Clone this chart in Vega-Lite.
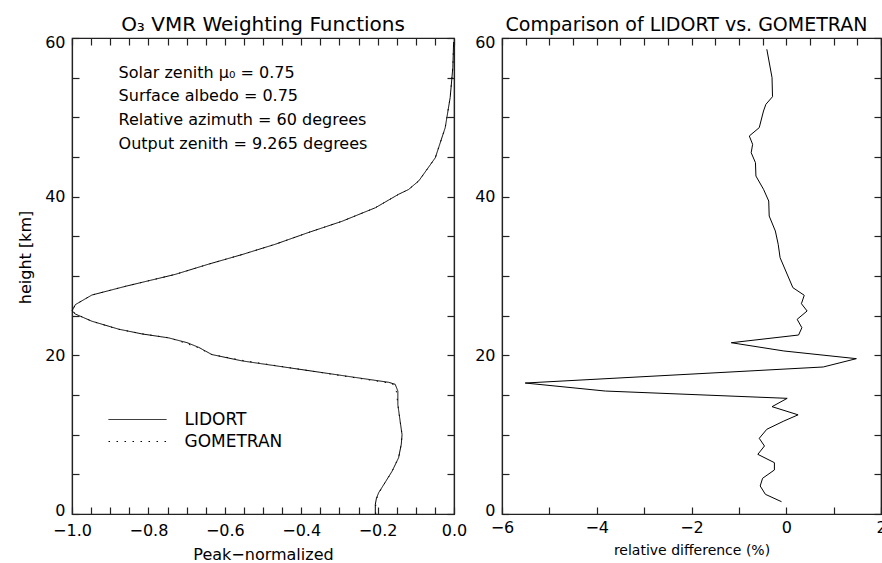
{
  "$schema": "https://vega.github.io/schema/vega-lite/v6.json",
  "background": "white",
  "padding": {"left": 16, "top": 14, "right": 0, "bottom": 0},
  "bounds": "flush",
  "spacing": 48,
  "config": {
    "view": {"stroke": "#222222", "strokeWidth": 1.2},
    "font": "DejaVu Sans",
    "axis": {
      "domainColor": "#222222",
      "domainWidth": 1.2,
      "tickColor": "#222222",
      "tickWidth": 1.2,
      "ticks": true,
      "labelColor": "black",
      "titleColor": "black",
      "labelFont": "DejaVu Sans",
      "titleFont": "DejaVu Sans",
      "titleFontWeight": "normal",
      "labelFontSize": 16,
      "titleFontSize": 16,
      "grid": false,
      "labelOverlap": false,
      "labelBound": false,
      "labelFlush": false
    },
    "title": {"font": "DejaVu Sans", "fontWeight": "normal", "fontSize": 19, "color": "black", "baseline": "alphabetic", "offset": -1}
  },
  "hconcat": [
    {
      "width": 382,
      "height": 476,
      "title": {"text": "O₃ VMR Weighting Functions", "fontSize": 20},
      "resolve": {"axis": {"x": "independent", "y": "independent"}},
      "layer": [
        {
          "data": {"values": [
            {"model": "LIDORT", "km": 0.0, "wf": -0.206},
            {"model": "LIDORT", "km": 1.2, "wf": -0.206},
            {"model": "LIDORT", "km": 2.0, "wf": -0.203},
            {"model": "LIDORT", "km": 2.7, "wf": -0.197},
            {"model": "LIDORT", "km": 4.0, "wf": -0.180},
            {"model": "LIDORT", "km": 5.4, "wf": -0.162},
            {"model": "LIDORT", "km": 7.1, "wf": -0.145},
            {"model": "LIDORT", "km": 8.8, "wf": -0.138},
            {"model": "LIDORT", "km": 10.0, "wf": -0.136},
            {"model": "LIDORT", "km": 11.7, "wf": -0.141},
            {"model": "LIDORT", "km": 13.8, "wf": -0.147},
            {"model": "LIDORT", "km": 15.5, "wf": -0.147},
            {"model": "LIDORT", "km": 16.35, "wf": -0.154},
            {"model": "LIDORT", "km": 16.6, "wf": -0.171},
            {"model": "LIDORT", "km": 19.3, "wf": -0.555},
            {"model": "LIDORT", "km": 20.1, "wf": -0.634},
            {"model": "LIDORT", "km": 21.0, "wf": -0.668},
            {"model": "LIDORT", "km": 21.6, "wf": -0.699},
            {"model": "LIDORT", "km": 22.2, "wf": -0.747},
            {"model": "LIDORT", "km": 22.7, "wf": -0.817},
            {"model": "LIDORT", "km": 23.3, "wf": -0.878},
            {"model": "LIDORT", "km": 24.3, "wf": -0.948},
            {"model": "LIDORT", "km": 25.2, "wf": -0.991},
            {"model": "LIDORT", "km": 25.6, "wf": -1.0},
            {"model": "LIDORT", "km": 26.4, "wf": -0.991},
            {"model": "LIDORT", "km": 27.6, "wf": -0.948},
            {"model": "LIDORT", "km": 28.7, "wf": -0.860},
            {"model": "LIDORT", "km": 30.2, "wf": -0.730},
            {"model": "LIDORT", "km": 31.5, "wf": -0.642},
            {"model": "LIDORT", "km": 32.7, "wf": -0.555},
            {"model": "LIDORT", "km": 34.0, "wf": -0.468},
            {"model": "LIDORT", "km": 35.5, "wf": -0.380},
            {"model": "LIDORT", "km": 36.9, "wf": -0.293},
            {"model": "LIDORT", "km": 38.6, "wf": -0.206},
            {"model": "LIDORT", "km": 40.3, "wf": -0.145},
            {"model": "LIDORT", "km": 40.9, "wf": -0.119},
            {"model": "LIDORT", "km": 42.0, "wf": -0.092},
            {"model": "LIDORT", "km": 44.9, "wf": -0.049},
            {"model": "LIDORT", "km": 48.7, "wf": -0.023},
            {"model": "LIDORT", "km": 52.5, "wf": -0.010},
            {"model": "LIDORT", "km": 56.3, "wf": -0.003},
            {"model": "LIDORT", "km": 59.5, "wf": -0.001},
            {"model": "GOMETRAN", "km": 0.0, "wf": -0.205},
            {"model": "GOMETRAN", "km": 1.2, "wf": -0.205},
            {"model": "GOMETRAN", "km": 2.0, "wf": -0.202},
            {"model": "GOMETRAN", "km": 2.7, "wf": -0.196},
            {"model": "GOMETRAN", "km": 4.0, "wf": -0.180},
            {"model": "GOMETRAN", "km": 5.4, "wf": -0.162},
            {"model": "GOMETRAN", "km": 7.1, "wf": -0.145},
            {"model": "GOMETRAN", "km": 8.8, "wf": -0.138},
            {"model": "GOMETRAN", "km": 10.0, "wf": -0.136},
            {"model": "GOMETRAN", "km": 11.7, "wf": -0.141},
            {"model": "GOMETRAN", "km": 13.8, "wf": -0.147},
            {"model": "GOMETRAN", "km": 15.5, "wf": -0.151},
            {"model": "GOMETRAN", "km": 16.35, "wf": -0.160},
            {"model": "GOMETRAN", "km": 16.6, "wf": -0.181},
            {"model": "GOMETRAN", "km": 19.3, "wf": -0.547},
            {"model": "GOMETRAN", "km": 20.1, "wf": -0.634},
            {"model": "GOMETRAN", "km": 21.0, "wf": -0.672},
            {"model": "GOMETRAN", "km": 21.6, "wf": -0.707},
            {"model": "GOMETRAN", "km": 22.2, "wf": -0.745},
            {"model": "GOMETRAN", "km": 22.7, "wf": -0.815},
            {"model": "GOMETRAN", "km": 23.3, "wf": -0.880},
            {"model": "GOMETRAN", "km": 24.3, "wf": -0.948},
            {"model": "GOMETRAN", "km": 25.2, "wf": -0.990},
            {"model": "GOMETRAN", "km": 25.6, "wf": -1.0},
            {"model": "GOMETRAN", "km": 26.4, "wf": -0.991},
            {"model": "GOMETRAN", "km": 27.6, "wf": -0.948},
            {"model": "GOMETRAN", "km": 28.7, "wf": -0.860},
            {"model": "GOMETRAN", "km": 30.2, "wf": -0.730},
            {"model": "GOMETRAN", "km": 31.5, "wf": -0.642},
            {"model": "GOMETRAN", "km": 32.7, "wf": -0.555},
            {"model": "GOMETRAN", "km": 34.0, "wf": -0.468},
            {"model": "GOMETRAN", "km": 35.5, "wf": -0.380},
            {"model": "GOMETRAN", "km": 36.9, "wf": -0.293},
            {"model": "GOMETRAN", "km": 38.6, "wf": -0.206},
            {"model": "GOMETRAN", "km": 40.3, "wf": -0.145},
            {"model": "GOMETRAN", "km": 40.9, "wf": -0.119},
            {"model": "GOMETRAN", "km": 42.0, "wf": -0.092},
            {"model": "GOMETRAN", "km": 44.9, "wf": -0.049},
            {"model": "GOMETRAN", "km": 48.7, "wf": -0.023},
            {"model": "GOMETRAN", "km": 52.5, "wf": -0.010},
            {"model": "GOMETRAN", "km": 56.3, "wf": -0.003},
            {"model": "GOMETRAN", "km": 59.5, "wf": -0.001}
          ]},
          "mark": {"type": "line", "color": "black", "strokeWidth": 1},
          "encoding": {
            "x": {
              "field": "wf", "type": "quantitative",
              "scale": {"domain": [-1, 0], "nice": false, "zero": false},
              "axis": {
                "orient": "bottom",
                "title": "Peak−normalized",
                "values": [-1, -0.95, -0.9, -0.85, -0.8, -0.75, -0.7, -0.65, -0.6, -0.55, -0.5, -0.45, -0.4, -0.35, -0.3, -0.25, -0.2, -0.15, -0.1, -0.05, 0],
                "format": ".1f",
                "labelExpr": "abs(datum.value * 5 - round(datum.value * 5)) < 0.001 ? datum.label : ''",
                "tickSize": -7,
                "encode": {"ticks": {"update": {"y2": {"signal": "abs(datum.value * 5 - round(datum.value * 5)) < 0.001 ? -7 : -4"}}}},
                "labelPadding": 15,
                "titlePadding": 8
              }
            },
            "y": {
              "field": "km", "type": "quantitative",
              "scale": {"domain": [0, 60], "nice": false, "zero": false},
              "axis": {
                "orient": "left",
                "title": "height [km]",
                "values": [0, 5, 10, 15, 20, 25, 30, 35, 40, 45, 50, 55, 60],
                "labelExpr": "datum.value % 20 == 0 ? datum.label : ''",
                "labelFlush": true,
                "labelFlushOffset": 4,
                "tickSize": -7,
                "encode": {"ticks": {"update": {"x2": {"signal": "datum.value % 20 == 0 ? 7 : 4"}}}},
                "labelPadding": 14,
                "titleX": -41.5,
                "titleY": 219,
                "titleBaseline": "alphabetic"
              }
            },
            "order": {"field": "km", "type": "quantitative"},
            "strokeDash": {
              "field": "model", "type": "nominal",
              "scale": {"domain": ["LIDORT", "GOMETRAN"], "range": [[1, 0], [1.5, 6.5]]},
              "legend": {
                "orient": "none",
                "legendX": 57,
                "legendY": 373,
                "title": null,
                "symbolType": "M-4,0H4",
                "symbolSize": 210,
                "symbolStrokeColor": "black",
                "symbolFillColor": "transparent",
                "symbolStrokeWidth": 1,
                "labelFont": "DejaVu Sans",
                "labelFontSize": 17,
                "labelColor": "black",
                "labelOffset": 38.5,
                "rowPadding": 4
              }
            }
          }
        },
        {
          "data": {"values": [
            {"note": "Solar zenith μ₀ = 0.75\nSurface albedo = 0.75\nRelative azimuth = 60 degrees\nOutput zenith = 9.265 degrees"}
          ]},
          "mark": {"type": "text", "align": "left", "baseline": "middle", "lineBreak": "\n", "lineHeight": 23.7, "fontSize": 16, "font": "DejaVu Sans", "color": "black"},
          "encoding": {
            "text": {"field": "note", "type": "nominal"},
            "x": {
              "datum": -0.878, "type": "quantitative",
              "scale": {"domain": [-1, 0], "nice": false, "zero": false},
              "axis": {
                "orient": "top",
                "title": null,
                "labels": false,
                "values": [-1, -0.95, -0.9, -0.85, -0.8, -0.75, -0.7, -0.65, -0.6, -0.55, -0.5, -0.45, -0.4, -0.35, -0.3, -0.25, -0.2, -0.15, -0.1, -0.05, 0],
                "tickSize": -7,
                "encode": {"ticks": {"update": {"y2": {"signal": "abs(datum.value * 5 - round(datum.value * 5)) < 0.001 ? 7 : 4"}}}}
              }
            },
            "y": {
              "datum": 55.63, "type": "quantitative",
              "scale": {"domain": [0, 60], "nice": false, "zero": false},
              "axis": {
                "orient": "right",
                "title": null,
                "labels": false,
                "values": [0, 5, 10, 15, 20, 25, 30, 35, 40, 45, 50, 55, 60],
                "tickSize": -7,
                "encode": {"ticks": {"update": {"x2": {"signal": "datum.value % 20 == 0 ? -7 : -4"}}}}
              }
            }
          }
        }
      ]
    },
    {
      "width": 379,
      "height": 476,
      "title": {"text": "Comparison of LIDORT vs. GOMETRAN", "dx": -5},
      "data": {"values": [
        {"km": 1.55, "diff": -0.10},
        {"km": 2.48, "diff": -0.44},
        {"km": 3.53, "diff": -0.55},
        {"km": 4.50, "diff": -0.50},
        {"km": 5.55, "diff": -0.25},
        {"km": 6.47, "diff": -0.25},
        {"km": 7.52, "diff": -0.60},
        {"km": 8.57, "diff": -0.46},
        {"km": 9.54, "diff": -0.57},
        {"km": 10.68, "diff": -0.41},
        {"km": 11.72, "diff": -0.05},
        {"km": 12.50, "diff": 0.25},
        {"km": 13.53, "diff": -0.30},
        {"km": 14.58, "diff": 0.02},
        {"km": 15.50, "diff": -3.82},
        {"km": 16.51, "diff": -5.51},
        {"km": 18.53, "diff": 0.78},
        {"km": 19.58, "diff": 1.48},
        {"km": 20.55, "diff": -0.05},
        {"km": 21.59, "diff": -1.16},
        {"km": 22.56, "diff": 0.26},
        {"km": 23.48, "diff": 0.33},
        {"km": 24.54, "diff": 0.23},
        {"km": 25.59, "diff": 0.44},
        {"km": 26.51, "diff": 0.32},
        {"km": 27.57, "diff": 0.38},
        {"km": 28.53, "diff": 0.14},
        {"km": 32.31, "diff": -0.13},
        {"km": 34.0, "diff": -0.17},
        {"km": 35.67, "diff": -0.23},
        {"km": 37.56, "diff": -0.36},
        {"km": 39.45, "diff": -0.37},
        {"km": 40.93, "diff": -0.48},
        {"km": 42.6, "diff": -0.64},
        {"km": 44.28, "diff": -0.65},
        {"km": 45.54, "diff": -0.74},
        {"km": 46.6, "diff": -0.71},
        {"km": 47.65, "diff": -0.78},
        {"km": 48.7, "diff": -0.57},
        {"km": 50.8, "diff": -0.48},
        {"km": 51.64, "diff": -0.43},
        {"km": 52.6, "diff": -0.29},
        {"km": 55.0, "diff": -0.30},
        {"km": 58.58, "diff": -0.41}
      ]},
      "resolve": {"axis": {"x": "independent", "y": "independent"}},
      "layer": [
        {
          "mark": {"type": "line", "color": "black", "strokeWidth": 1},
          "encoding": {
            "x": {
              "field": "diff", "type": "quantitative",
              "scale": {"domain": [-6, 2], "nice": false, "zero": false},
              "axis": {
                "orient": "bottom",
                "title": "relative difference (%)",
                "titleFontSize": 14,
                "values": [-6, -5.5, -5, -4.5, -4, -3.5, -3, -2.5, -2, -1.5, -1, -0.5, 0, 0.5, 1, 1.5, 2],
                "format": "d",
                "labelExpr": "datum.value % 2 == 0 ? datum.label : ''",
                "tickSize": -7,
                "encode": {"ticks": {"update": {"y2": {"signal": "datum.value % 2 == 0 ? -7 : -4"}}}},
                "labelPadding": 12,
                "titlePadding": 8
              }
            },
            "y": {
              "field": "km", "type": "quantitative",
              "scale": {"domain": [0, 60], "nice": false, "zero": false},
              "axis": {
                "orient": "left",
                "title": null,
                "values": [0, 5, 10, 15, 20, 25, 30, 35, 40, 45, 50, 55, 60],
                "labelExpr": "datum.value % 20 == 0 ? datum.label : ''",
                "labelFlush": true,
                "labelFlushOffset": 4,
                "tickSize": -7,
                "encode": {"ticks": {"update": {"x2": {"signal": "datum.value % 20 == 0 ? 7 : 4"}}}},
                "labelPadding": 14
              }
            },
            "order": {"field": "km", "type": "quantitative"}
          }
        },
        {
          "mark": {"type": "line", "opacity": 0},
          "encoding": {
            "x": {
              "field": "diff", "type": "quantitative",
              "scale": {"domain": [-6, 2], "nice": false, "zero": false},
              "axis": {
                "orient": "top",
                "title": null,
                "labels": false,
                "values": [-6, -5.5, -5, -4.5, -4, -3.5, -3, -2.5, -2, -1.5, -1, -0.5, 0, 0.5, 1, 1.5, 2],
                "tickSize": -7,
                "encode": {"ticks": {"update": {"y2": {"signal": "datum.value % 2 == 0 ? 7 : 4"}}}}
              }
            },
            "y": {
              "field": "km", "type": "quantitative",
              "scale": {"domain": [0, 60], "nice": false, "zero": false},
              "axis": {
                "orient": "right",
                "title": null,
                "labels": false,
                "values": [0, 5, 10, 15, 20, 25, 30, 35, 40, 45, 50, 55, 60],
                "tickSize": -7,
                "encode": {"ticks": {"update": {"x2": {"signal": "datum.value % 20 == 0 ? -7 : -4"}}}}
              }
            },
            "order": {"field": "km", "type": "quantitative"}
          }
        }
      ]
    }
  ]
}
